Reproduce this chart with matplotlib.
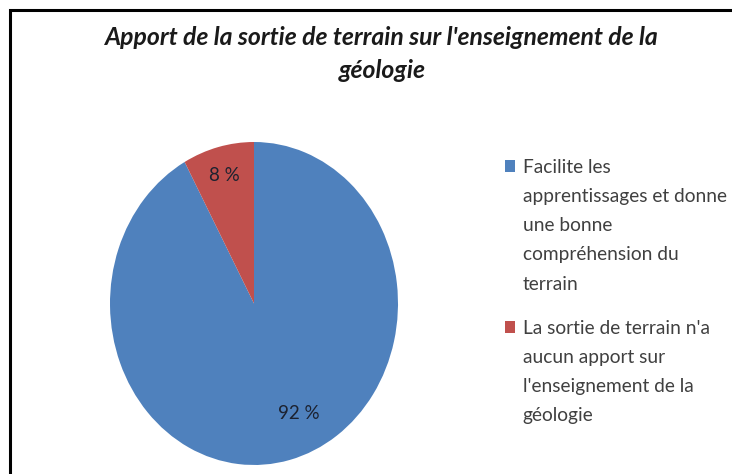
import matplotlib.pyplot as plt
from matplotlib.patches import Rectangle

# données du graphique
labels = [["Facilite les", "apprentissages et donne", "une bonne",
           "compréhension du", "terrain"],
          ["La sortie de terrain n'a", "aucun apport sur",
           "l'enseignement de la", "géologie"]]
values = [92, 8]
colors = ["#4F81BD", "#C0504D"]
title = "Apport de la sortie de terrain sur l'enseignement de la\ngéologie"

fig = plt.figure(figsize=(7.32, 4.74), dpi=100)

# cadre du graphique (coupé à droite et en bas)
fig.patches.append(Rectangle((10 / 732, -0.1), 1.2, 1 - 10 / 474 + 0.1,
                             transform=fig.transFigure, fill=False,
                             edgecolor="black", linewidth=2.2))

fig.text(382 / 732, 1 - 54 / 474, title, ha="center", va="center",
         fontsize=17.8, style="italic", weight="bold", family="Lato",
         color="#1a1a1a", linespacing=1.5)

ax = fig.add_axes([110 / 732, 9 / 474, 288 / 732, 323 / 474])
wedges, texts, autotexts = ax.pie(values, colors=colors, startangle=90,
                                  counterclock=False, radius=1,
                                  autopct=lambda p: f"{p:.0f} %",
                                  pctdistance=0.82,
                                  textprops=dict(family="Lato", fontsize=13.5,
                                                 color="#1c2230"))
autotexts[0].set_position((0.31, -0.68))
ax.set_aspect("auto")
ax.set_xlim(-1, 1)
ax.set_ylim(-1, 1)

# légende : une entrée par ligne, le carré sur la première ligne
tops = [1 - 149 / 474, 1 - 310 / 474]
for wedge, lines, top in zip(wedges, labels, tops):
    blank = Rectangle((0, 0), 1, 1, fill=False, edgecolor="none")
    handles = [wedge] + [blank] * (len(lines) - 1)
    fig.legend(handles, lines, loc="upper left",
               bbox_to_anchor=(495 / 732, top), frameon=False,
               prop=dict(family="Lato", size=13.8), labelcolor="#404040",
               handlelength=0.55, handleheight=0.55, handletextpad=0.4,
               labelspacing=0.64, borderpad=0)

fig.savefig("out.png", dpi=100)
